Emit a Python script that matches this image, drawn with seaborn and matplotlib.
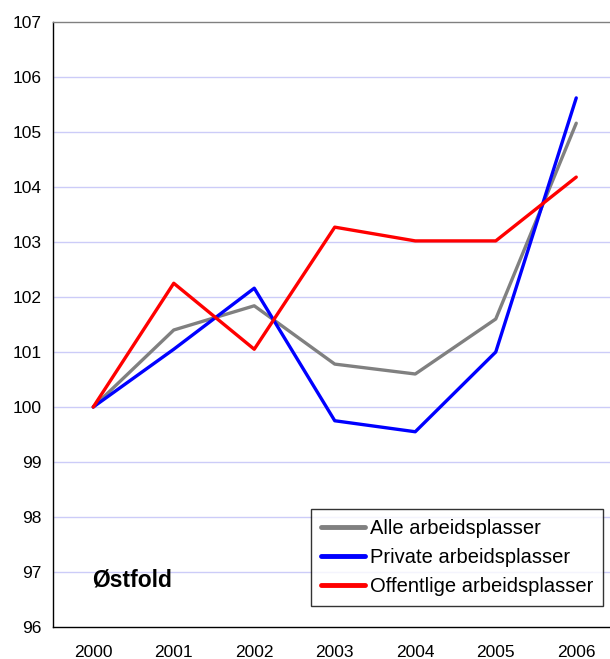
import matplotlib
import matplotlib.pyplot as plt
import pandas as pd
import seaborn as sns

matplotlib.use("Agg")

YEARS = ["2000", "2001", "2002", "2003", "2004", "2005", "2006"]
ALLE = [100.0, 101.4, 101.84, 100.78, 100.6, 101.6, 105.16]
PRIVATE = [100.0, 101.05, 102.16, 99.75, 99.55, 101.0, 105.62]
OFFENTLIGE = [100.0, 102.25, 101.05, 103.27, 103.02, 103.02, 104.18]

SERIES = {
    "Alle arbeidsplasser": ALLE,
    "Private arbeidsplasser": PRIVATE,
    "Offentlige arbeidsplasser": OFFENTLIGE,
}
COLORS = ["#808080", "#0000FF", "#FF0000"]

df = pd.DataFrame(
    [(i, name, v) for name, vals in SERIES.items() for i, v in enumerate(vals)],
    columns=["pos", "serie", "value"],
)

sns.set_theme(style="white", rc={"text.color": "black", "xtick.color": "black",
                                 "ytick.color": "black", "axes.labelcolor": "black"})
plt.rcParams["font.family"] = ["Liberation Sans", "DejaVu Sans"]

fig = plt.figure(figsize=(6.10, 6.59), dpi=100)
ax = fig.add_axes([53 / 610, 32 / 659, 563.5 / 610, 605 / 659])

sns.lineplot(data=df, x="pos", y="value", hue="serie", palette=COLORS,
             linewidth=2.4, ax=ax, legend=False)

ax.set_xlim(-0.5, 6.5)
ax.set_ylim(96, 107)
ax.set_yticks(range(96, 108))
ax.set_yticklabels([str(v) for v in range(96, 108)], fontsize=12.5)
ax.set_xticks(range(len(YEARS)))
ax.set_xticklabels(YEARS, fontsize=12.5)
ax.set_xticks([i + 0.5 for i in range(-1, 7)], minor=True)
ax.tick_params(axis="x", which="major", length=0, pad=13)
ax.tick_params(axis="x", which="minor", length=5, width=1, color="black", direction="out")
ax.tick_params(axis="y", length=5, width=1, color="black", direction="out", pad=3)
ax.set_xlabel("")
ax.set_ylabel("")

for v in range(97, 107):
    ax.axhline(v, color="#CCCCF8", linewidth=1, zorder=0)

for side in ["left", "bottom"]:
    ax.spines[side].set_color("black")
    ax.spines[side].set_linewidth(1)
ax.spines["top"].set_color("#808080")
ax.spines["top"].set_linewidth(1)
ax.spines["right"].set_visible(False)

ax.text(-0.01, 96.86, "Østfold", fontsize=16.5, fontweight="bold", ha="left", va="center")

handles = [plt.Line2D([], [], color=c, linewidth=3.5) for c in COLORS]
leg = ax.legend(handles, list(SERIES.keys()), loc="lower left",
                bbox_to_anchor=(258 / 563.5, 21 / 605, 292 / 563.5, 94 / 605),
                mode="expand", fontsize=14.5, frameon=True, fancybox=False,
                edgecolor="black", handlelength=2.2, handletextpad=0.25,
                borderpad=0.5, labelspacing=0.5, borderaxespad=0)
leg.get_frame().set_linewidth(1)

fig.savefig("out.png", dpi=100)
